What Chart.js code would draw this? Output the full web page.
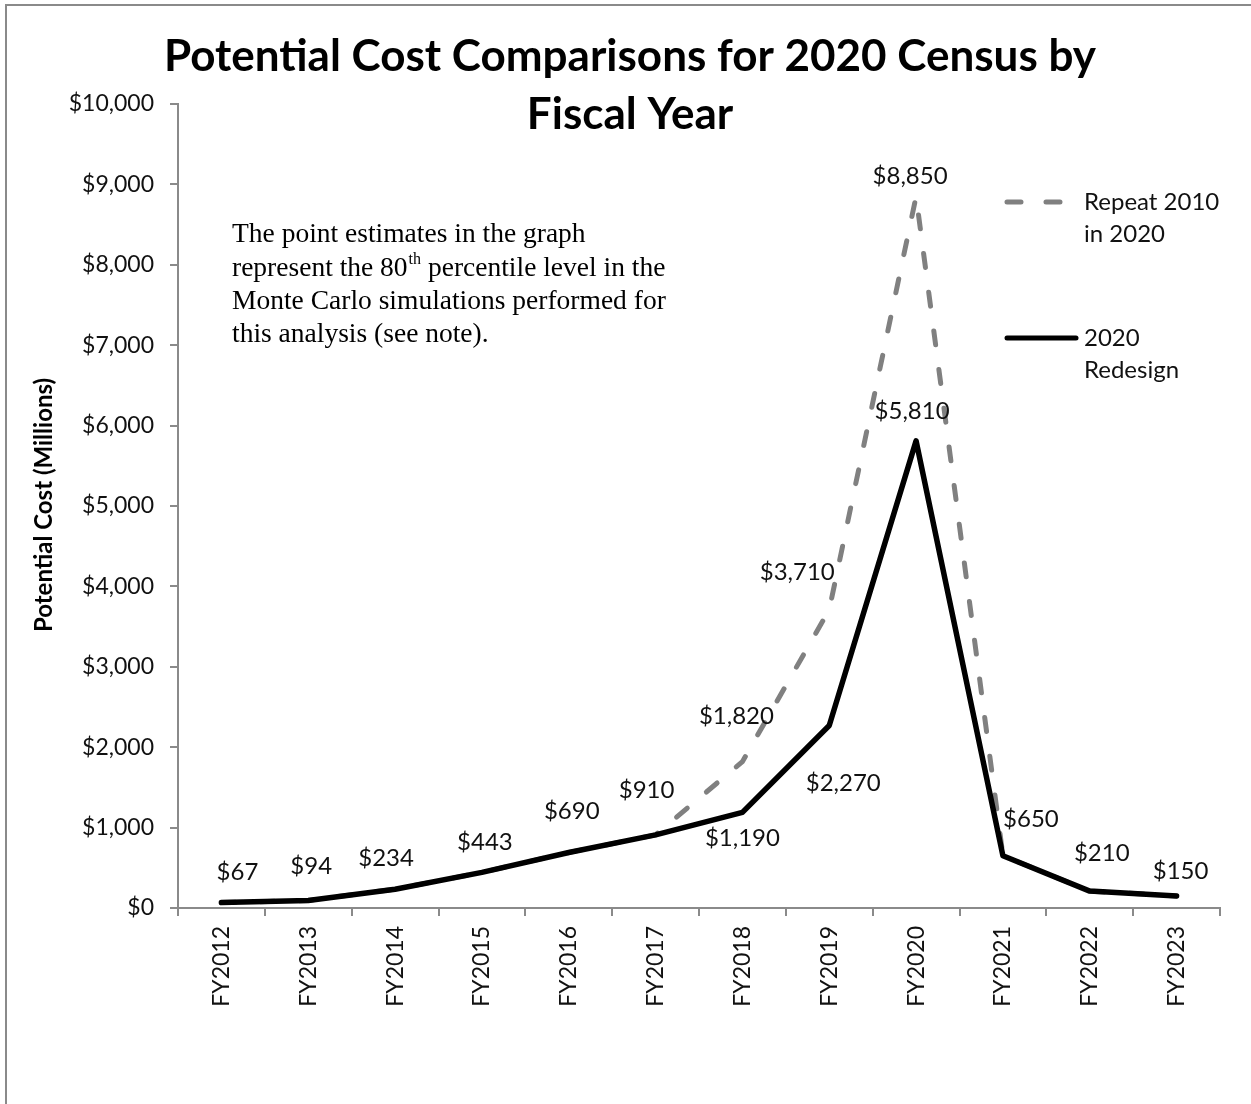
<!DOCTYPE html>
<html>
<head>
<meta charset="utf-8">
<title>Potential Cost Comparisons for 2020 Census by Fiscal Year</title>
<script src="https://cdn.jsdelivr.net/npm/chart.js@4.4.1/dist/chart.umd.min.js"></script>
<style>
    html, body { margin: 0; padding: 0; background: #fff; overflow: hidden; }
    #wrap { width: 1251px; height: 1104px; }
</style>
</head>
<body>
<div id="wrap"><canvas id="costChart" width="1251" height="1104"></canvas></div>
<script>
// 데이터 (백만 달러)
const fiscalYears = ['FY2012', 'FY2013', 'FY2014', 'FY2015', 'FY2016', 'FY2017',
                     'FY2018', 'FY2019', 'FY2020', 'FY2021', 'FY2022', 'FY2023'];
const redesignCost = [67, 94, 234, 443, 690, 910, 1190, 2270, 5810, 650, 210, 150];
const repeatCost   = [67, 94, 234, 443, 690, 910, 1820, 3710, 8850, 650, 210, 150];
const yMin = 0;
const yMax = 10000;
const yStep = 1000;

// 값 라벨 위치 (점 기준 오프셋, px)
const redesignLabelOffsets = [[16, -30], [3, -34], [-9, -31], [3, -30], [3, -41], [-9, -45],
                              [0, 26], [14, 58], [-4, -30], [28, -36], [12, -38], [4, -25]];
const repeatLabelOffsets = { 6: [-6, -45], 7: [-32, -37], 8: [-6, -20] };

const FONT = 'Lato';
const SERIF = '"Liberation Serif"';
const money = v => '$' + v.toLocaleString('en-US');

// 제목, 축 제목, 주석, 범례, 테두리
const decorations = {
    id: 'decorations',
    afterDatasetsDraw(chart) {
        const ctx = chart.ctx;
        ctx.save();
        ctx.font = '24px ' + FONT;
        ctx.fillStyle = '#111';
        ctx.textAlign = 'center';
        ctx.textBaseline = 'middle';
        const solid = chart.getDatasetMeta(0);
        redesignLabelOffsets.forEach((off, i) => {
            const p = solid.data[i];
            ctx.fillText(money(redesignCost[i]), p.x + off[0], p.y + off[1]);
        });
        const dashed = chart.getDatasetMeta(1);
        Object.keys(repeatLabelOffsets).forEach(k => {
            const i = Number(k), off = repeatLabelOffsets[k], p = dashed.data[i];
            ctx.fillText(money(repeatCost[i]), p.x + off[0], p.y + off[1]);
        });
        ctx.restore();
    },
    afterDraw(chart) {
        const ctx = chart.ctx;
        ctx.save();

        // 바깥 테두리
        ctx.strokeStyle = '#8a8a8a';
        ctx.lineWidth = 2;
        ctx.strokeRect(6, 5, 1400, 1400);

        // 제목
        ctx.fillStyle = '#000';
        ctx.textAlign = 'center';
        ctx.textBaseline = 'alphabetic';
        ctx.font = 'bold 44px ' + FONT;
        ctx.fillText('Potential Cost Comparisons for 2020 Census by', 630, 71);
        ctx.fillText('Fiscal Year', 630, 129);

        // y축 제목
        ctx.save();
        ctx.translate(44, 505);
        ctx.rotate(-Math.PI / 2);
        ctx.font = 'bold 24px ' + FONT;
        ctx.textBaseline = 'middle';
        ctx.fillText('Potential Cost (Millions)', 0, 0);
        ctx.restore();

        // 주석
        ctx.textAlign = 'left';
        ctx.font = '27.5px ' + SERIF;
        ctx.fillText('The point estimates in the graph', 232, 242);
        let x = 232;
        const y2 = 276;
        ctx.fillText('represent the 80', x, y2);
        x += ctx.measureText('represent the 80').width;
        ctx.font = '16px ' + SERIF;
        ctx.fillText('th', x + 1, y2 - 12);
        x += ctx.measureText('th').width + 1;
        ctx.font = '27.5px ' + SERIF;
        ctx.fillText(' percentile level in the', x, y2);
        ctx.fillText('Monte Carlo simulations performed for', 232, 309);
        ctx.fillText('this analysis (see note).', 232, 342);

        // 범례
        ctx.lineWidth = 5;
        ctx.lineCap = 'round';
        ctx.strokeStyle = '#808080';
        ctx.setLineDash([14, 25]);
        ctx.beginPath();
        ctx.moveTo(1007, 202);
        ctx.lineTo(1068, 202);
        ctx.stroke();
        ctx.setLineDash([]);
        ctx.strokeStyle = '#000';
        ctx.beginPath();
        ctx.moveTo(1007, 338);
        ctx.lineTo(1076, 338);
        ctx.stroke();

        ctx.font = '24px ' + FONT;
        ctx.textBaseline = 'middle';
        ctx.fillStyle = '#111';
        ctx.fillText('Repeat 2010', 1084, 202);
        ctx.fillText('in 2020', 1084, 234);
        ctx.fillText('2020', 1084, 338);
        ctx.fillText('Redesign', 1084, 370);

        ctx.restore();
    }
};

const ctx = document.getElementById('costChart').getContext('2d');
const costChart = new Chart(ctx, {
    type: 'line',
    data: {
        labels: fiscalYears,
        datasets: [
            {
                label: '2020 Redesign',
                data: redesignCost,
                borderColor: '#000',
                borderWidth: 5.5,
                borderJoinStyle: 'round',
                borderCapStyle: 'round',
                pointRadius: 0,
                tension: 0,
                order: 0
            },
            {
                label: 'Repeat 2010 in 2020',
                data: repeatCost,
                borderColor: '#808080',
                borderWidth: 5,
                borderDash: [14, 25],
                borderCapStyle: 'round',
                pointRadius: 0,
                tension: 0,
                order: 1
            }
        ]
    },
    options: {
        responsive: false,
        animation: false,
        layout: { padding: { top: 104, right: 31, bottom: 0, left: 0 } },
        plugins: {
            legend: { display: false },
            title: { display: false },
            tooltip: { enabled: false }
        },
        scales: {
            x: {
                offset: true,
                grid: {
                    offset: true,
                    drawOnChartArea: false,
                    color: '#8a8a8a',
                    lineWidth: 2,
                    tickLength: 8
                },
                border: { color: '#8a8a8a', width: 2 },
                ticks: {
                    color: '#111',
                    font: { family: FONT, size: 23 },
                    minRotation: 90,
                    maxRotation: 90,
                    padding: 10,
                    autoSkip: false
                },
                afterFit(scale) { scale.height = 196; }
            },
            y: {
                min: yMin,
                max: yMax,
                grid: {
                    drawOnChartArea: false,
                    color: '#8a8a8a',
                    lineWidth: 2,
                    tickLength: 8
                },
                border: { color: '#8a8a8a', width: 2 },
                ticks: {
                    stepSize: yStep,
                    color: '#111',
                    font: { family: FONT, size: 23 },
                    padding: 16,
                    callback: v => money(v)
                },
                afterFit(scale) { scale.width = 178; }
            }
        }
    },
    plugins: [decorations]
});
</script>
</body>
</html>
